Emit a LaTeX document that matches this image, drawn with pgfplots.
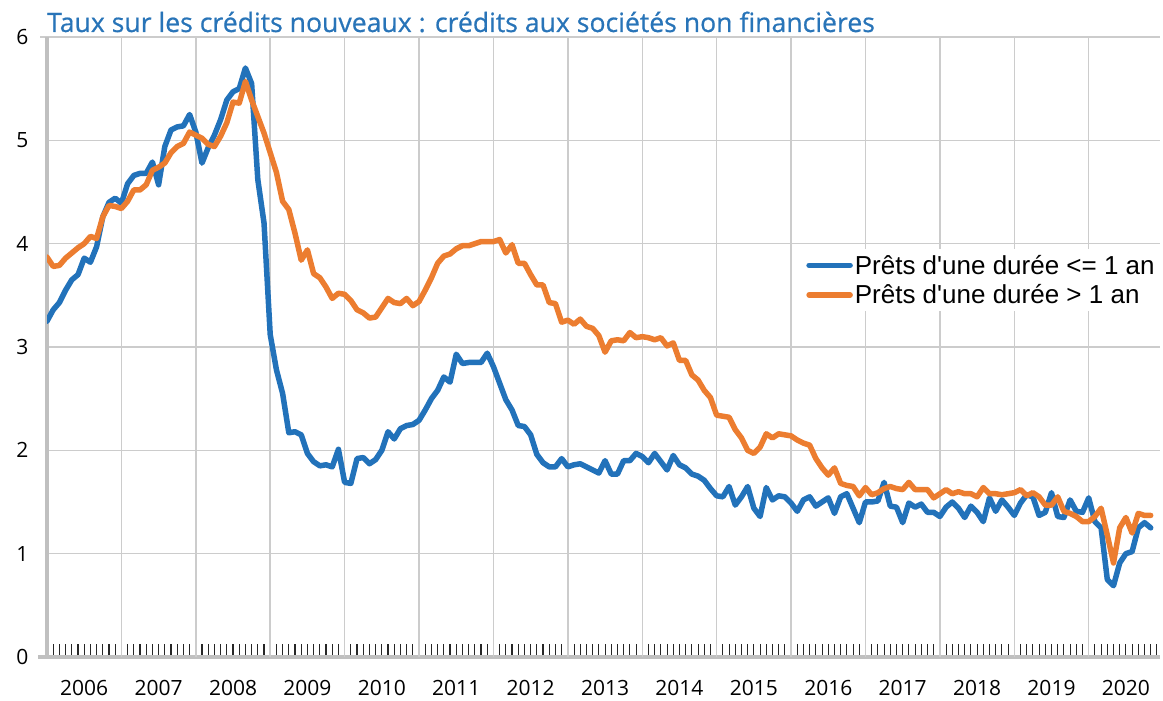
\documentclass[border=0pt]{standalone}
\usepackage{pgfplots}
\pgfplotsset{compat=1.18}
\usepackage{fontspec}
\setmainfont{Liberation Sans}
\newfontfamily\tickfont{Open Sans}
\newfontfamily\titlefont{Open Sans}[FakeBold=0.6]
\definecolor{lblue}{RGB}{34,114,186}
\definecolor{lorange}{RGB}{236,125,48}
\definecolor{tblue}{RGB}{40,116,184}
\definecolor{gridc}{RGB}{204,204,204}
\definecolor{axisc}{RGB}{192,192,192}
\begin{document}
\begin{tikzpicture}
\path[use as bounding box] (0,0) rectangle (1163pt,701pt);
\node[anchor=base west, inner sep=0pt, text=tblue, font=\titlefont\fontsize{26.6}{26.6}\selectfont] at (47pt,669pt) {Taux sur les crédits nouveaux : crédits aux sociétés non financières};
\begin{axis}[
  at={(47pt,44pt)}, anchor=south west,
  scale only axis, width=1113pt, height=620pt,
  xmin=0, xmax=179.5, ymin=0, ymax=6,
  axis x line=bottom, axis y line=left,
  axis line style={-, draw=axisc, line width=3.5pt},
  x axis line style={shorten <=-9pt},
  ytick={0,1,2,3,4,5,6},
  xtick={6,18,30,42,54,66,78,90,102,114,126,138,150,162,174},
  xticklabels={2006,2007,2008,2009,2010,2011,2012,2013,2014,2015,2016,2017,2018,2019,2020},
  minor xtick={1,2,3,4,5,6,7,8,9,10,11,13,14,15,16,17,18,19,20,21,22,23,25,26,27,28,29,30,31,32,33,34,35,37,38,39,40,41,42,43,44,45,46,47,49,50,51,52,53,54,55,56,57,58,59,61,62,63,64,65,66,67,68,69,70,71,73,74,75,76,77,78,79,80,81,82,83,85,86,87,88,89,90,91,92,93,94,95,97,98,99,100,101,102,103,104,105,106,107,109,110,111,112,113,114,115,116,117,118,119,121,122,123,124,125,126,127,128,129,130,131,133,134,135,136,137,138,139,140,141,142,143,145,146,147,148,149,150,151,152,153,154,155,157,158,159,160,161,162,163,164,165,166,167,169,170,171,172,173,174,175,176,177,178,179},
  major tick length=0pt,
  minor tick length=13pt,
  minor x tick style={draw=black!85, line width=1.1pt},
  tick align=inside,
  xtick pos=bottom, ytick pos=left,
  ymajorgrids,
  major grid style={draw=gridc, line width=1.5pt, shorten <=-7pt},
  ticklabel style={font=\tickfont\fontsize{21}{21}\selectfont},
  /pgf/number format/assume math mode=true,
  xticklabel style={yshift=-20pt},
  yticklabel style={xshift=-15pt},
  legend style={at={(axis description cs:0.6695,0.6585)}, anchor=north west, fill=white, draw=none,
    font=\fontsize{26}{30}\selectfont, inner xsep=14pt, inner ysep=4pt, row sep=5pt,
    nodes={inner sep=2pt}},
  legend cell align=left,
  legend image code/.code={\draw[#1, line cap=round] (0pt,0pt) -- (41pt,0pt);},
]
\pgfplotsinvokeforeach{12,24,36,48,60,72,84,96,108,120,132,144,156,168}{\draw[gridc, line width=1.5pt] (axis cs:#1,6) -- ([yshift=-44pt]axis cs:#1,0);}
\draw[gridc, line width=1.5pt] (axis cs:0,0) -- ([yshift=-44pt]axis cs:0,0);
\addplot[lblue, line width=5.5pt, line join=round, line cap=round] table {
m v
0 3.25
1 3.36
2 3.43
3 3.55
4 3.65
5 3.70
6 3.86
7 3.82
8 3.97
9 4.26
10 4.40
11 4.44
12 4.39
13 4.58
14 4.66
15 4.68
16 4.68
17 4.79
18 4.57
19 4.94
20 5.10
21 5.13
22 5.14
23 5.25
24 5.08
25 4.78
26 4.93
27 5.05
28 5.20
29 5.39
30 5.47
31 5.50
32 5.70
33 5.55
34 4.62
35 4.20
36 3.12
37 2.78
38 2.55
39 2.17
40 2.18
41 2.15
42 1.97
43 1.89
44 1.85
45 1.86
46 1.84
47 2.01
48 1.69
49 1.68
50 1.92
51 1.93
52 1.87
53 1.91
54 2.00
55 2.18
56 2.11
57 2.21
58 2.24
59 2.25
60 2.29
61 2.39
62 2.50
63 2.58
64 2.71
65 2.66
66 2.93
67 2.84
68 2.85
69 2.85
70 2.85
71 2.94
72 2.81
73 2.65
74 2.49
75 2.39
76 2.24
77 2.23
78 2.15
79 1.96
80 1.88
81 1.84
82 1.84
83 1.92
84 1.84
85 1.86
86 1.87
87 1.84
88 1.81
89 1.78
90 1.90
91 1.77
92 1.77
93 1.90
94 1.90
95 1.97
96 1.94
97 1.88
98 1.97
99 1.89
100 1.81
101 1.95
102 1.86
103 1.83
104 1.77
105 1.75
106 1.71
107 1.63
108 1.56
109 1.55
110 1.65
111 1.47
112 1.55
113 1.65
114 1.44
115 1.36
116 1.64
117 1.52
118 1.56
119 1.55
120 1.49
121 1.41
122 1.52
123 1.55
124 1.46
125 1.50
126 1.54
127 1.39
128 1.55
129 1.58
130 1.44
131 1.30
132 1.50
133 1.50
134 1.51
135 1.69
136 1.46
137 1.45
138 1.30
139 1.49
140 1.45
141 1.48
142 1.40
143 1.40
144 1.36
145 1.45
146 1.50
147 1.44
148 1.35
149 1.46
150 1.40
151 1.31
152 1.54
153 1.41
154 1.52
155 1.45
156 1.37
157 1.49
158 1.57
159 1.55
160 1.37
161 1.40
162 1.59
163 1.36
164 1.35
165 1.52
166 1.41
167 1.40
168 1.54
169 1.31
170 1.25
171 0.75
172 0.69
173 0.91
174 1.00
175 1.02
176 1.25
177 1.30
178 1.25
};
\addlegendentry{Prêts d\textquotesingle une durée <= 1 an}
\addplot[lorange, line width=5.5pt, line join=round, line cap=round] table {
m v
0 3.87
1 3.78
2 3.79
3 3.86
4 3.91
5 3.96
6 4.00
7 4.07
8 4.05
9 4.26
10 4.37
11 4.36
12 4.34
13 4.41
14 4.52
15 4.52
16 4.57
17 4.71
18 4.74
19 4.78
20 4.88
21 4.94
22 4.97
23 5.08
24 5.05
25 5.02
26 4.96
27 4.94
28 5.04
29 5.17
30 5.37
31 5.36
32 5.57
33 5.39
34 5.23
35 5.07
36 4.88
37 4.69
38 4.41
39 4.33
40 4.10
41 3.84
42 3.94
43 3.71
44 3.67
45 3.58
46 3.47
47 3.52
48 3.51
49 3.45
50 3.36
51 3.33
52 3.28
53 3.29
54 3.38
55 3.47
56 3.43
57 3.42
58 3.47
59 3.40
60 3.44
61 3.55
62 3.67
63 3.81
64 3.88
65 3.90
66 3.95
67 3.98
68 3.98
69 4.00
70 4.02
71 4.02
72 4.02
73 4.04
74 3.91
75 3.99
76 3.81
77 3.81
78 3.70
79 3.60
80 3.60
81 3.43
82 3.42
83 3.24
84 3.26
85 3.22
86 3.27
87 3.20
88 3.18
89 3.11
90 2.95
91 3.06
92 3.07
93 3.06
94 3.14
95 3.09
96 3.10
97 3.09
98 3.07
99 3.09
100 3.01
101 3.04
102 2.87
103 2.87
104 2.73
105 2.68
106 2.58
107 2.51
108 2.34
109 2.33
110 2.32
111 2.20
112 2.12
113 2.00
114 1.97
115 2.03
116 2.16
117 2.12
118 2.16
119 2.15
120 2.14
121 2.10
122 2.07
123 2.05
124 1.92
125 1.83
126 1.76
127 1.83
128 1.68
129 1.66
130 1.65
131 1.56
132 1.64
133 1.57
134 1.59
135 1.63
136 1.65
137 1.63
138 1.62
139 1.69
140 1.62
141 1.62
142 1.62
143 1.54
144 1.58
145 1.62
146 1.58
147 1.60
148 1.58
149 1.58
150 1.55
151 1.64
152 1.58
153 1.58
154 1.57
155 1.58
156 1.59
157 1.62
158 1.56
159 1.59
160 1.55
161 1.47
162 1.47
163 1.55
164 1.41
165 1.39
166 1.36
167 1.31
168 1.31
169 1.36
170 1.44
171 1.18
172 0.91
173 1.25
174 1.35
175 1.20
176 1.39
177 1.37
178 1.37
};
\addlegendentry{Prêts d\textquotesingle une durée > 1 an}
\end{axis}
\end{tikzpicture}
\end{document}
